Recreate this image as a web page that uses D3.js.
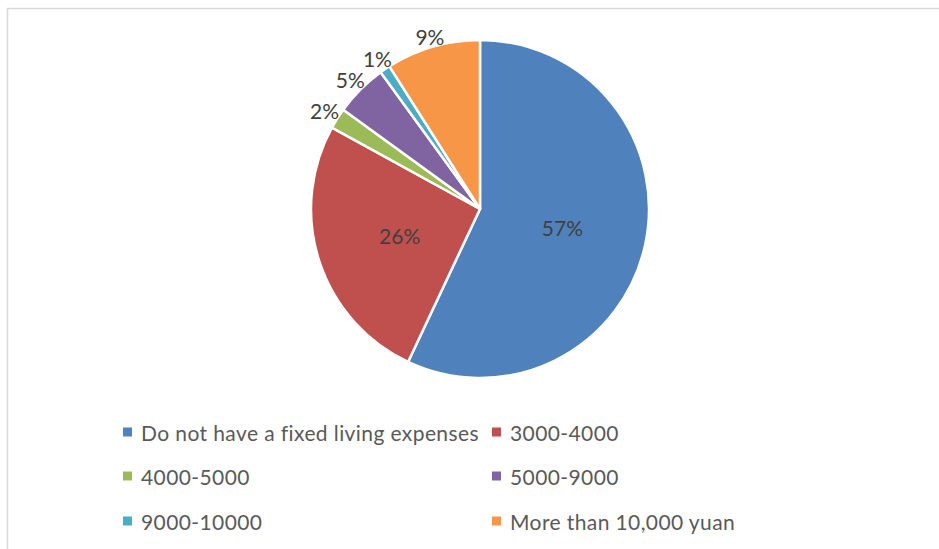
<!DOCTYPE html>
<html>
<head>
<meta charset="utf-8">
<script src="https://cdn.jsdelivr.net/npm/d3@7"></script>
<style>
  html, body { margin: 0; padding: 0; background: #fff; }
  svg { display: block; }
</style>
</head>
<body>
<svg id="chart" width="939" height="549"></svg>
<script>
// Monthly living expense groups and their shares (%)
const categories = [
  "Do not have a fixed living expenses",
  "3000-4000",
  "4000-5000",
  "5000-9000",
  "9000-10000",
  "More than 10,000 yuan"
];
const shares = [57, 26, 2, 5, 1, 9];
const colors = ["#4F81BD", "#C0504D", "#9BBB59", "#8064A2", "#4BACC6", "#F79646"];
const percentLabels = ["57%", "26%", "2%", "5%", "1%", "9%"];

const font = "Lato, 'Open Sans', sans-serif";
const labelColor = "#404040";
const legendColor = "#595959";

const svg = d3.select("#chart");

// Chart area frame
svg.append("rect")
  .attr("x", 7.5).attr("y", 8.5)
  .attr("width", 940).attr("height", 560)
  .attr("fill", "#fff")
  .attr("stroke", "#d9d9d9")
  .attr("stroke-width", 1.5);

const cx = 480, cy = 209, radius = 169;
const data = categories.map((c, i) => ({ name: c, value: shares[i], color: colors[i], label: percentLabels[i] }));

const pie = d3.pie().value(d => d.value).sort(null);
const arcs = pie(data);
const arc = d3.arc().innerRadius(0).outerRadius(radius);

const g = svg.append("g").attr("transform", `translate(${cx},${cy})`);

g.selectAll("path.slice")
  .data(arcs)
  .join("path")
  .attr("class", "slice")
  .attr("d", arc)
  .attr("fill", d => d.data.color)
  .attr("stroke", "#fff")
  .attr("stroke-width", 2.5)
  .attr("stroke-linejoin", "round");

// Percentage labels: inside for large slices, just outside the rim for small ones
const labelSize = 21;
g.selectAll("text.pct")
  .data(arcs)
  .join("text")
  .attr("class", "pct")
  .attr("font-family", font)
  .attr("font-size", labelSize)
  .attr("fill", labelColor)
  .attr("text-anchor", "middle")
  .attr("dominant-baseline", "central")
  .text(d => d.data.label)
  .each(function(d) {
    const mid = (d.startAngle + d.endAngle) / 2;
    const dx = Math.sin(mid), dy = -Math.cos(mid);
    let r;
    if (d.data.value >= 15) {
      r = radius * 0.5;
    } else {
      const w = this.getComputedTextLength();
      const h = labelSize * 0.85;
      r = radius + (w / 2) * Math.abs(dx) + (h / 2) * Math.abs(dy) - 2;
    }
    d3.select(this).attr("x", dx * r).attr("y", dy * r);
  });

// Legend: two columns, three rows
const legendX = [123, 492];
const legendY = [432, 476, 521];
const legend = svg.append("g");
data.forEach((d, i) => {
  const col = i % 2, row = Math.floor(i / 2);
  const item = legend.append("g").attr("transform", `translate(${legendX[col]},${legendY[row]})`);
  item.append("rect")
    .attr("x", 0).attr("y", -4.5)
    .attr("width", 9).attr("height", 9)
    .attr("fill", d.color);
  item.append("text")
    .attr("x", 18).attr("y", 0)
    .attr("dominant-baseline", "central")
    .attr("font-family", font)
    .attr("font-size", 21)
    .attr("letter-spacing", 0.4)
    .attr("fill", legendColor)
    .text(d.name);
});
</script>
</body>
</html>
